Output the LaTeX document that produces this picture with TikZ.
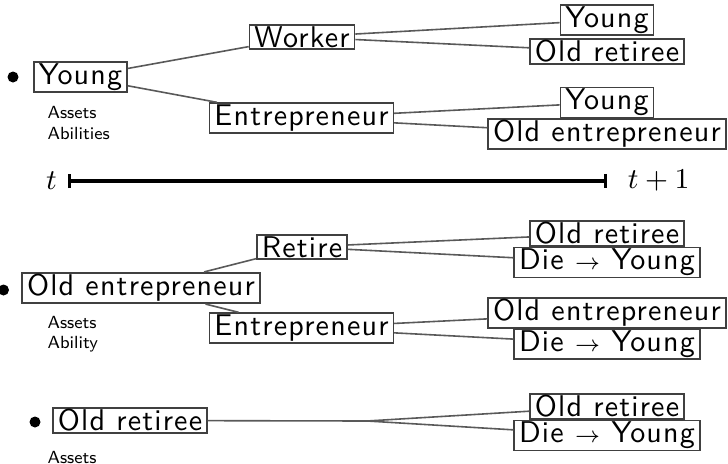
\documentclass[tikz,border=0pt]{standalone}
\usepackage{fontspec}
\newfontfamily\statefont{lmsans10-regular.otf}[LetterSpace=4]
\usetikzlibrary{positioning,arrows.meta}
\tikzset{
  state/.style={draw=black!75, line width=0.5pt, inner xsep=1.5pt, inner ysep=0.5pt,
    font=\statefont\fontsize{9.4}{11}\selectfont},
  link/.style={draw=black!65, line width=0.5pt},
  note/.style={anchor=west, align=left, inner sep=0pt,
    font=\sffamily\fontsize{5.5}{6.4}\selectfont},
  period/.style={line width=1pt, {Bar[width=4.5pt]}-{Bar[width=4.5pt]}}
}
\newcommand{\dies}{Die $\scriptstyle\rightarrow$ Young}

\begin{document}
\begin{tikzpicture}[x=0.11cm,y=-0.11cm]
  \useasboundingbox (0,0) rectangle (72.8,46.4);
  % young agent
  \fill[black] (1.3,7.7) circle [radius=0.55];
  \node[state] (young) at (8.05,7.7) {Young};
  \node[note] (young-notes) at (4.7,12.3) {Assets\\Abilities};
  \node[state] (worker) at (30.2,3.7) {Worker};
  \node[state] (entre) at (30.15,11.8) {Entrepreneur};
  \node[state] (worker-young) at (60.7,2.0) {Young};
  \node[state] (worker-retiree) at (60.7,5.15) {Old retiree};
  \node[state] (entre-young) at (60.7,10.25) {Young};
  \node[state] (entre-oldent) at (60.7,13.4) {Old entrepreneur};
  \draw[link] (young) -- (worker);
  \draw[link] (young) -- (entre);
  \draw[link] (worker) -- (worker-young);
  \draw[link] (worker) -- (worker-retiree);
  \draw[link] (entre) -- (entre-young);
  \draw[link] (entre) -- (entre-oldent);
  % time line
  \coordinate (tstart) at (6.8,18.1);
  \coordinate (tend) at (60.7,18.1);
  \draw[period] (tstart) -- (tend);
  \node[left=0pt of tstart, font=\small] (tlabel) {$t$};
  \node[right=3pt of tend, font=\small] (tnext) {$t+1$};
  % old entrepreneur
  \fill[black] (0.35,29.0) circle [radius=0.55];
  \node[state] (oldent) at (14.1,28.8) {Old entrepreneur};
  \node[note] (oldent-notes) at (4.7,33.4) {Assets\\Ability};
  \node[state] (retire) at (30.2,24.7) {Retire};
  \node[state] (stay) at (30.15,32.8) {Entrepreneur};
  \node[state] (retire-retiree) at (60.7,23.35) {Old retiree};
  \node[state] (retire-die) at (60.7,26.25) {\dies};
  \node[state] (stay-oldent) at (60.7,31.3) {Old entrepreneur};
  \node[state] (stay-die) at (60.7,34.4) {\dies};
  \draw[link] (oldent) -- (retire);
  \draw[link] (oldent) -- (stay);
  \draw[link] (retire) -- (retire-retiree);
  \draw[link] (retire) -- (retire-die);
  \draw[link] (stay) -- (stay-oldent);
  \draw[link] (stay) -- (stay-die);
  % old retiree
  \fill[black] (3.5,42.2) circle [radius=0.55];
  \node[state] (retiree) at (13.0,42.05) {Old retiree};
  \node[note] (retiree-notes) at (4.7,45.7) {Assets};
  \coordinate (fork) at (36.7,42.1);
  \node[state] (retiree-retiree) at (60.7,40.65) {Old retiree};
  \node[state] (retiree-die) at (60.7,43.55) {\dies};
  \draw[link] (retiree) -- (fork);
  \draw[link] (fork) -- (retiree-retiree);
  \draw[link] (fork) -- (retiree-die);
\end{tikzpicture}
\end{document}
